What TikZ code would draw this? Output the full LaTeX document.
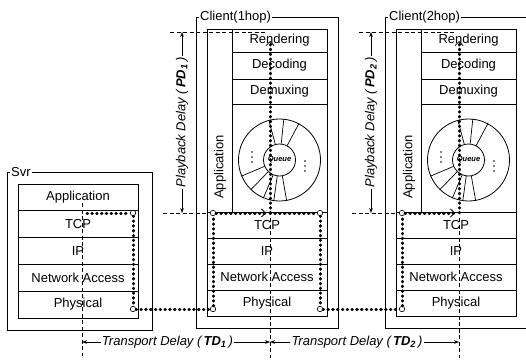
\documentclass[tikz,border=0pt]{standalone}
\usepackage{fontspec}
\setmainfont{Liberation Sans}
\usetikzlibrary{arrows.meta}
\begin{document}
\begin{tikzpicture}[x=1pt,y=-1pt,
  frame/.style={draw, line width=0.8pt, inner sep=0pt, outer sep=0pt},
  box/.style={draw, line width=0.8pt, inner sep=0pt, outer sep=0pt, font=\fontsize{13}{15}\selectfont},
  lbl/.style={fill=white, inner sep=1pt, font=\fontsize{13}{15}\selectfont},
  hole/.style={circle, draw, fill=white, line width=0.6pt, minimum size=5.5pt, inner sep=0pt},
  pkt/.style={line width=3pt, line cap=round, dash pattern=on 0.6pt off 4.2pt},
  vdash/.style={line width=0.6pt, dash pattern=on 4pt off 2.5pt},
  delay/.style={inner sep=1pt, font=\itshape\fontsize{13}{15}\selectfont},
  dar/.style={line width=0.6pt, -{Stealth[length=5pt,width=3.6pt]}},
  barb/.style={-{Straight Barb[line width=0.8pt,length=4pt,width=8pt]}},
]
\useasboundingbox (0,0) rectangle (526,361);

% ---------------- Server ----------------
\node[frame, minimum width=145pt, minimum height=158pt] (svr) at (79.5,251) {};
\node[lbl, anchor=west] (svrlbl) at (10,172) {Svr};
\node[box, minimum width=120pt, minimum height=26.8pt] (s-app) at (78,197.4) {Application};
\node[box, minimum width=120pt, minimum height=26.8pt] (s-tcp) at (78,224.2) {TCP};
\node[box, minimum width=120pt, minimum height=26.8pt] (s-ip)  at (78,251.0) {IP};
\node[box, minimum width=120pt, minimum height=26.8pt] (s-na)  at (78,277.8) {Network Access};
\node[box, minimum width=120pt, minimum height=26.8pt] (s-phy) at (78,304.6) {Physical};
\coordinate (s-vtop) at (82,203);
\coordinate (s-vbot) at (82,356);
\draw[vdash] (s-vtop) -- (s-vbot);
\node[hole] (s-htop) at (133,213) {};
\node[hole] (s-hbot) at (133,309) {};
\coordinate (s-pstart) at (87,213);
\draw[pkt] (s-pstart) -- (s-htop);
\draw[pkt] (s-htop) -- (s-hbot);

% ---------------- Clients ----------------
\foreach \dx/\pre/\hop/\sub in {0/c1/1/1, 189/c2/2/2}{
\begin{scope}[shift={(\dx,0)}, name prefix=\pre-]
  \node[frame, minimum width=142pt, minimum height=311pt] (outer) at (267,172.5) {};
  \node[lbl, anchor=west] (title) at (199,17) {Client(\hop hop)};
  % application column
  \node[box, minimum width=25pt, minimum height=183pt] (appcol) at (219.5,120.5) {};
  \node[font=\fontsize{13}{15}\selectfont, rotate=90, inner sep=0pt] (applbl) at (220,167) {Application};
  \node[box, minimum width=95pt, minimum height=23pt] (rend) at (279.5,40.5) {Rendering};
  \node[box, minimum width=95pt, minimum height=27pt] (dec)  at (279.5,65.5) {Decoding};
  \node[box, minimum width=95pt, minimum height=25pt] (dmx)  at (279.5,91.5) {Demuxing};
  \node[box, minimum width=95pt, minimum height=108pt] (qarea) at (279.5,158) {};
  % queue
  \node[circle, draw, line width=0.8pt, minimum size=82pt, inner sep=0pt] (qout) at (279.5,160) {};
  \node[circle, draw, line width=0.8pt, fill=white, minimum size=32pt, inner sep=0pt,
        font=\bfseries\itshape\fontsize{7.5}{8}\selectfont] (qin) at (279.5,160) {Queue};
  \foreach \a in {105,84,62,203,226,247,262,280}{
    \draw[line width=0.7pt] (qin.\a) -- (qout.\a);
  }
  \foreach \yy in {152,157,162}{ \fill (252,\yy) circle (0.9pt); }
  \foreach \yy in {161,166,171}{ \fill (305,\yy) circle (0.9pt); }
  % lower stack
  \node[box, minimum width=120pt, minimum height=26pt] (tcp) at (267,225) {TCP};
  \node[box, minimum width=120pt, minimum height=26pt] (ip)  at (267,251) {IP};
  \node[box, minimum width=120pt, minimum height=26pt] (na)  at (267,277) {Network Access};
  \node[box, minimum width=120pt, minimum height=26pt] (phy) at (267,303) {Physical};
  % thin dashed vertical
  \coordinate (vtop) at (270,218);
  \coordinate (vbot) at (270,358);
  \draw[vdash] (vtop) -- (vbot);
  % playback delay
  \coordinate (rl1) at (170,32);
  \coordinate (rl2) at (265,32);
  \draw[vdash] (rl1) -- (rl2);
  \coordinate (bl1) at (163,213);
  \coordinate (bl2) at (207,213);
  \draw[vdash] (bl1) -- (bl2);
  \node[delay, rotate=90] (pd) at (182,122.5) {Playback Delay (\,\textbf{PD\textsubscript{\sub}}\,)};
  \coordinate (pdt) at (182,32);
  \coordinate (pdb) at (182,213);
  \draw[dar] (pd.east) -- (pdt);
  \draw[dar] (pd.west) -- (pdb);
  % packet path inside client
  \node[hole] (hbl) at (213,309) {};
  \node[hole] (htl) at (213,213) {};
  \coordinate (pjoin) at (270,213);
  \coordinate (parr) at (266,213);
  \coordinate (ptop) at (270,41);
  \draw[pkt] (hbl) -- (htl);
  \draw[pkt, barb] (htl) -- (parr);
  \draw[pkt, barb] (pjoin) -- (ptop);
\end{scope}
}
% client1 right-hand side of the packet path
\node[hole] (c1-htr) at (320,213) {};
\node[hole] (c1-hbr) at (320,309) {};
\draw[pkt] (c1-pjoin) -- (c1-htr);
\draw[pkt] (c1-htr) -- (c1-hbr);
% links between hosts
\draw[pkt] (s-hbot) -- (c1-hbl);
\draw[pkt] (c1-hbr) -- (c2-hbl);

% transport delays
\coordinate (td0) at (82,342);
\coordinate (tdm) at (270,342);
\coordinate (tde) at (459,342);
\node[delay] (td1) at (167.5,342) {Transport Delay (\,\textbf{TD\textsubscript{1}}\,)};
\node[delay] (td2) at (357,342) {Transport Delay (\,\textbf{TD\textsubscript{2}}\,)};
\draw[dar] (td1.west) -- (td0);
\draw[dar] (td1.east) -- (tdm);
\draw[dar] (td2.west) -- (tdm);
\draw[dar] (td2.east) -- (tde);
\end{tikzpicture}
\end{document}
